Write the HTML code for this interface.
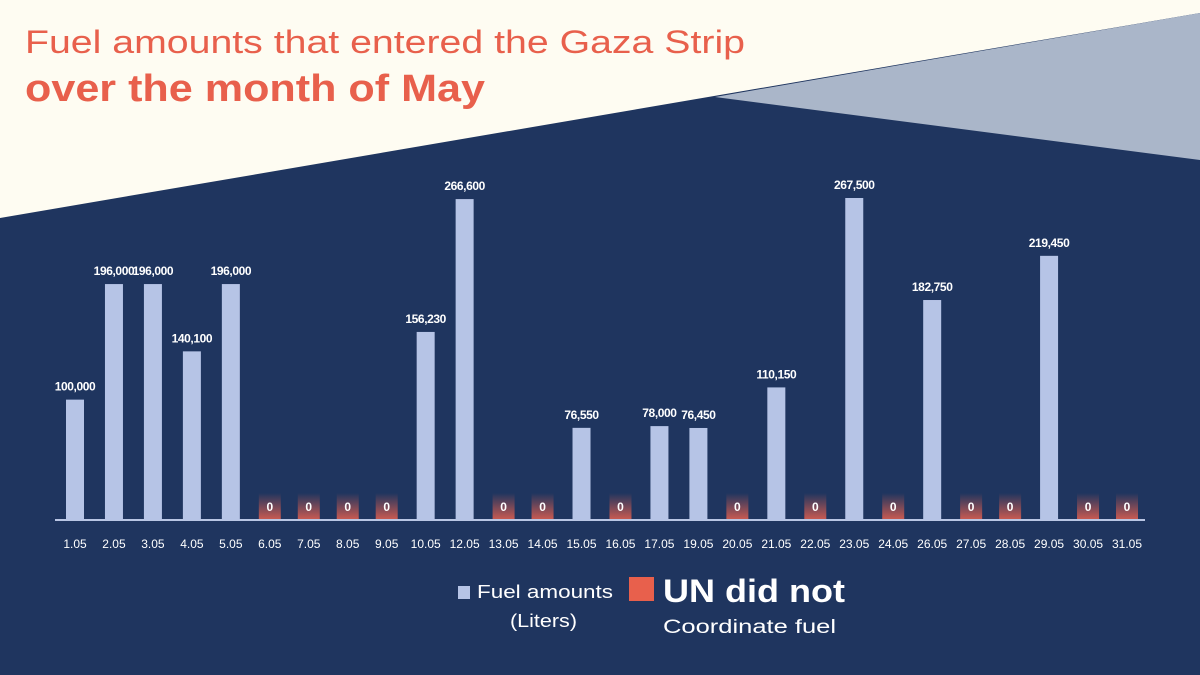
<!DOCTYPE html>
<html><head><meta charset="utf-8"><style>
body{margin:0;width:1200px;height:675px;overflow:hidden;background:#1f355f;font-family:"Liberation Sans",sans-serif}
svg{display:block}
</style></head><body>
<svg width="1200" height="675">
<defs><linearGradient id="zg" x1="0" y1="0" x2="0" y2="1"><stop offset="0" stop-color="#e4604f" stop-opacity="0"/><stop offset="1" stop-color="#e4604f" stop-opacity="0.85"/></linearGradient></defs>
<rect width="1200" height="675" fill="#1f355f"/>
<polygon points="0,0 1200,0 1200,13 0,218" fill="#fefcf2"/>
<polygon points="715,97 1200,13 1200,160" fill="#aab6c9"/>
<text x="25" y="53" font-size="32" fill="#e8604c" textLength="720" lengthAdjust="spacingAndGlyphs">Fuel amounts that entered the Gaza Strip</text>
<text x="25" y="101" font-size="38" font-weight="bold" fill="#e8604c" textLength="460" lengthAdjust="spacingAndGlyphs">over the month of May</text>
<line x1="55" y1="520" x2="1145" y2="520" stroke="#b9c6e4" stroke-width="2"/>
<g id="bars"></g>
<rect x="458" y="586" width="12" height="13" fill="#b6c4e6"/>
<text x="477" y="598" font-size="18" fill="#fff" textLength="136" lengthAdjust="spacingAndGlyphs">Fuel amounts</text>
<text x="510" y="627" font-size="18" fill="#fff" textLength="67" lengthAdjust="spacingAndGlyphs">(Liters)</text>
<rect x="629" y="577" width="25" height="24" fill="#e8604c"/>
<text x="663" y="602" font-size="32" font-weight="bold" fill="#fff" textLength="182" lengthAdjust="spacingAndGlyphs">UN did not</text>
<text x="663" y="633" font-size="19" fill="#fff" textLength="173" lengthAdjust="spacingAndGlyphs">Coordinate fuel</text>
</svg>
<script>
const categories=["1.05","2.05","3.05","4.05","5.05","6.05","7.05","8.05","9.05","10.05","12.05","13.05","14.05","15.05","16.05","17.05","19.05","20.05","21.05","22.05","23.05","24.05","26.05","27.05","28.05","29.05","30.05","31.05"];
const values=[100000,196000,196000,140100,196000,0,0,0,0,156230,266600,0,0,76550,0,78000,76450,0,110150,0,267500,0,182750,0,0,219450,0,0];
const labels=values.map(v=>v.toLocaleString('en-US'));
const NS="http://www.w3.org/2000/svg",g=document.getElementById('bars');
const x0=75,x1=1127,base=520;
const xs=i=>x0+i*(x1-x0)/(categories.length-1);
const ys=v=>base-v*322/267500;
function mk(t,a){const e=document.createElementNS(NS,t);for(const k in a)e.setAttribute(k,a[k]);g.appendChild(e);return e;}
categories.forEach((c,i)=>{
 const x=xs(i),v=values[i];
 let t=mk('text',{x:x,y:548,'font-size':12,fill:'#fff','text-anchor':'middle'});t.textContent=c;
 
 
 if(v>0){
  const r=mk('rect',{x:x-9,y:ys(v),width:18,height:base-ys(v),fill:'#b6c4e6'});
  
  
  const l=mk('text',{x:x,y:ys(v)-9,'font-size':12,'font-weight':'bold',fill:'#fff','text-anchor':'middle','letter-spacing':'-0.4'});l.textContent=labels[i];
  
  
 }else{
  const r=mk('rect',{x:x-11,y:493,width:22,height:26,fill:'url(#zg)'});
  
  
  const l=mk('text',{x:x,y:511,'font-size':12,'font-weight':'bold',fill:'#fff','text-anchor':'middle'});l.textContent=labels[i];
  
  
 }
});
</script>
</body></html>
